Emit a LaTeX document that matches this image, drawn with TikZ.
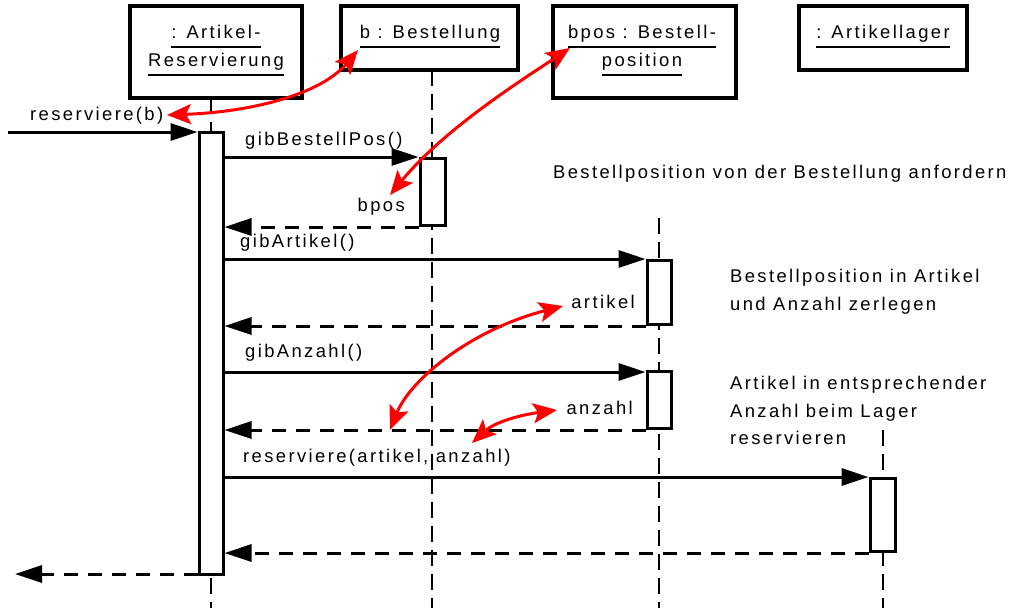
\documentclass[tikz,border=0pt]{standalone}
\usepackage{fontspec}
\setmainfont{Liberation Sans}[LetterSpace=13]
\usetikzlibrary{arrows.meta,calc}

\tikzset{
  obj/.style={draw, line width=3.5pt, fill=white},
  lbl/.style={inner sep=0pt, font=\fontsize{18.4}{21}\selectfont},
  life/.style={line width=2pt, dash pattern=on 16pt off 8pt},
  act/.style={draw, line width=3pt, fill=white},
  call/.style={line width=3pt, -{Triangle[length=27pt,width=17pt]}},
  ret/.style={line width=3pt, dash pattern=on 14pt off 10pt, -{Triangle[length=27pt,width=17pt]}},
  link/.style={red, line width=3pt, {Stealth[length=24pt,width=20pt,inset=5pt]}-{Stealth[length=24pt,width=20pt,inset=5pt]}},
  uline/.style={line width=2pt}
}

% underline a name node 9pt below its baseline (y axis points down)
\newcommand{\ul}[1]{\draw[uline] ($(#1.base west)+(0,9)$) -- ($(#1.base east)+(0,9)$);}

\begin{document}
\begin{tikzpicture}[x=1pt,y=-1pt]
\useasboundingbox (0,0) rectangle (1020,608);

% object boxes
\node[obj, minimum width=172pt, minimum height=92pt] (objA) at (216,52) {};
\node[obj, minimum width=177pt, minimum height=64pt] (objB) at (429.5,38) {};
\node[obj, minimum width=183pt, minimum height=92pt] (objC) at (644.5,52) {};
\node[obj, minimum width=168pt, minimum height=64pt] (objD) at (883,38) {};

% object names
\node[lbl, anchor=base] (a1) at (216,38) {: Artikel-};
\node[lbl, anchor=base] (a2) at (216,66) {Reservierung};
\node[lbl, anchor=base] (b1) at (430,38) {b : Bestellung};
\node[lbl, anchor=base] (c1) at (642,38) {bpos : Bestell-};
\node[lbl, anchor=base] (c2) at (642,66) {position};
\node[lbl, anchor=base] (d1) at (883,38) {: Artikellager};
\ul{a1}\ul{a2}\ul{b1}\ul{c1}\ul{c2}\ul{d1}

% lifelines
\coordinate (lC) at (659,218);
\coordinate (lD) at (883,430);
\draw[life] (211,98) -- (211,608);
\draw[life] (432,70) -- (432,608);
\draw[life] (lC) -- (659,608);
\draw[life] (lD) -- (883,608);

% activation bars
\node[act, minimum width=24pt, minimum height=442pt, anchor=north] (actA) at (211,131) {};
\node[act, minimum width=25pt, minimum height=67pt, anchor=north] (actB) at (432.5,157) {};
\node[act, minimum width=24pt, minimum height=64pt, anchor=north] (actC1) at (659,259) {};
\node[act, minimum width=24pt, minimum height=57pt, anchor=north] (actC2) at (659,370) {};
\node[act, minimum width=25pt, minimum height=73pt, anchor=north] (actD) at (882.5,477) {};

% external caller and return
\coordinate (in) at (8,132);
\coordinate (out) at (15,574);
\draw[call] (in) -- (actA.north west |- in);
\draw[ret] (actA.south west |- 0,574) -- (out);

% messages
\draw[call] (actA.east |- 0,157) -- (actB.north west);
\draw[ret] (actB.south west) -- (actA.east |- actB.south);
\draw[call] (actA.east |- 0,259) -- (actC1.north west);
\draw[ret] (actC1.south west) -- (actA.east |- actC1.south);
\draw[call] (actA.east |- 0,372) -- (actC2.west |- 0,372);
\draw[ret] (actC2.south west) -- (actA.east |- actC2.south);
\draw[call] (actA.east |- 0,477) -- (actD.north west);
\draw[ret] (actD.south west) -- (actA.east |- actD.south);

% message labels
\node[lbl, anchor=base west] (m0) at (30,120) {reserviere(b)};
\node[lbl, anchor=base west] (m1) at (245,145) {gibBestellPos()};
\node[lbl, anchor=base east] (r1) at (405,211) {bpos};
\node[lbl, anchor=base west] (m2) at (240,247) {gibArtikel()};
\node[lbl, anchor=base east] (r2) at (635,308) {artikel};
\node[lbl, anchor=base west] (m3) at (245,357) {gibAnzahl()};
\node[lbl, anchor=base east] (r3) at (633,414) {anzahl};
\node[lbl, anchor=base west] (m4) at (243,462) {reserviere(artikel, anzahl)};

% notes
\node[lbl, anchor=base west] (n1) at (553,178) {Bestellposition von der Bestellung anfordern};
\node[lbl, anchor=base west] (n2a) at (730,282) {Bestellposition in Artikel};
\node[lbl, anchor=base west] (n2b) at (730,310) {und Anzahl zerlegen};
\node[lbl, anchor=base west] (n3a) at (730,389) {Artikel in entsprechender};
\node[lbl, anchor=base west] (n3b) at (730,417) {Anzahl beim Lager};
\node[lbl, anchor=base west] (n3c) at (730,444) {reservieren};

% red cross references between parameters and objects
\coordinate (p1) at (167,115);
\coordinate (p2) at (358,50);
\coordinate (p3) at (570,48);
\coordinate (p4) at (390,195);
\coordinate (p5) at (563,306);
\coordinate (p6) at (390,430);
\coordinate (p7) at (557,410);
\coordinate (p8) at (472,443);
\draw[link] (p1) .. controls (250,112) and (320,95) .. (p2);
\draw[link] (p3) .. controls (525,78) and (445,128) .. (p4);
\draw[link] (p5) .. controls (470,330) and (410,380) .. (p6);
\draw[link] (p7) .. controls (520,415) and (495,422) .. (p8);
\end{tikzpicture}
\end{document}
